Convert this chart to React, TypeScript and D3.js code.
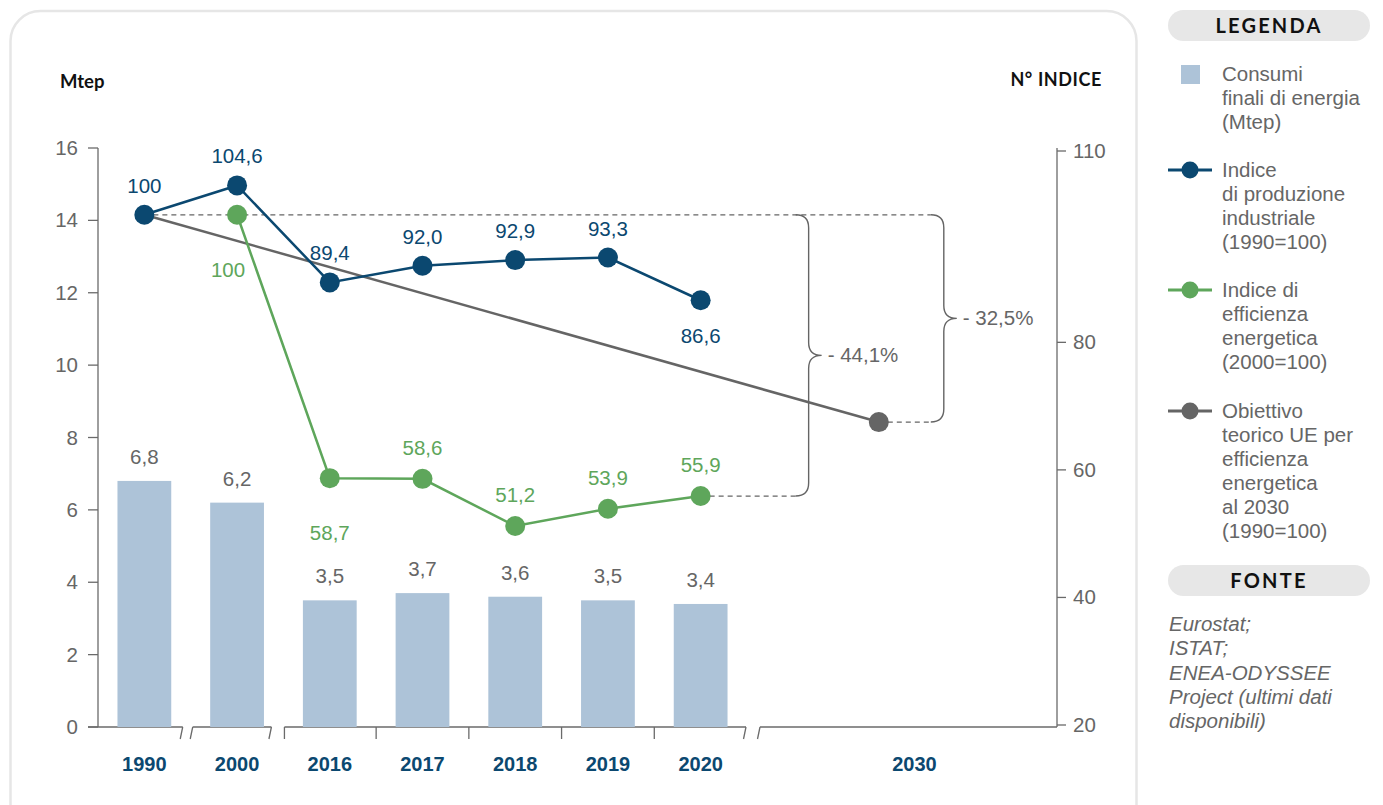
import React from 'react';
import * as d3 from 'd3';

// ---------- DATA ----------
const years = ['1990', '2000', '2016', '2017', '2018', '2019', '2020'];
const consumi = [6.8, 6.2, 3.5, 3.7, 3.6, 3.5, 3.4]; // Mtep (left axis)
const produzione = [100, 104.6, 89.4, 92.0, 92.9, 93.3, 86.6]; // 1990=100
const efficienzaYears = ['2000', '2016', '2017', '2018', '2019', '2020'];
const efficienza = [100, 58.7, 58.6, 51.2, 53.9, 55.9]; // 2000=100
const targetYear = '2030';
const obiettivoStart = 100; // 1990
const obiettivo2030 = 67.5; // 100 - 32,5%
const leftTicks = [0, 2, 4, 6, 8, 10, 12, 14, 16];
const rightTicks = [20, 40, 60, 80, 110];
const annotEff = '- 44,1%';
const annotTarget = '- 32,5%';

const legendItems = [
  { kind: 'bar', lines: ['Consumi', 'finali di energia', '(Mtep)'] },
  { kind: 'blue', lines: ['Indice', 'di produzione', 'industriale', '(1990=100)'] },
  { kind: 'green', lines: ['Indice di', 'efficienza', 'energetica', '(2000=100)'] },
  { kind: 'gray', lines: ['Obiettivo', 'teorico UE per', 'efficienza', 'energetica', 'al 2030', '(1990=100)'] },
];
const fonteLines = ['Eurostat;', 'ISTAT;', 'ENEA-ODYSSEE', 'Project (ultimi dati', 'disponibili)'];

// ---------- STYLE ----------
const C = {
  bar: '#adc3d8',
  blue: '#0b4870',
  green: '#5ea65b',
  gray: '#656565',
  axis: '#6a6a6a',
  text: '#666666',
  pill: '#e7e7e7',
  card: '#e6e6e6',
};
const SANS = "'Liberation Sans', Arial, Helvetica, sans-serif";
const HEAD = "Lato, 'Noto Sans', sans-serif";
const FS = 20.5;

const fmt = (v: number) => (v === 100 ? '100' : v.toFixed(1).replace('.', ','));

export default function App() {
  const W = 1383, H = 805;
  const axL = 98, axR = 1057, yBase = 727;

  const yLeft = d3.scaleLinear().domain([0, 16]).range([727, 148]);
  const yRight = d3.scaleLinear().domain([20, 110]).range([725, 151]);

  const x = d3.scaleBand<string>().domain(years).range([axL, 747]).paddingInner(0.42).paddingOuter(0.21);
  const step = x.step();
  const bw = x.bandwidth();
  const cx = (d: string) => (x(d) as number) + bw / 2;
  const b = (i: number) => axL + i * step; // band boundaries

  const seg4Start = b(7) + 13;
  const xT = d3.scalePoint<string>().domain([targetYear]).range([seg4Start, axR]).align(0.4);
  const tX = xT(targetYear) as number;

  const blueLine = d3.line<number>().x((_, i) => cx(years[i])).y((v) => yRight(v));
  const greenLine = d3.line<number>().x((_, i) => cx(efficienzaYears[i])).y((v) => yRight(v));

  const bluePos = ['a', 'a', 'a', 'a', 'a', 'a', 'b'];
  const greenPos = ['b', 'b', 'a', 'a', 'a', 'a'];

  // braces
  const r = 13, tip = 13;
  const brace = (bx: number, y0: number, y1: number) => {
    const ym = (y0 + y1) / 2;
    return `M${bx - r},${y0} Q${bx},${y0} ${bx},${y0 + r} L${bx},${ym - tip} Q${bx},${ym} ${bx + tip},${ym} Q${bx},${ym} ${bx},${ym + tip} L${bx},${y1 - r} Q${bx},${y1} ${bx - r},${y1}`;
  };
  const y100 = yRight(100);
  const yEff = yRight(efficienza[efficienza.length - 1]);
  const yTgt = yRight(obiettivo2030);
  const b1x = cx('2020') + 108;
  const b2x = tX + 65;

  const slash = (sx: number, key: string) => (
    <line key={key} x1={sx} y1={yBase} x2={sx - 2.5} y2={yBase + 12} stroke={C.axis} strokeWidth={1.3} />
  );

  const legendX = 1168;
  const legendY = [81, 177, 297, 418];
  const markerY = [74, 170, 290, 411];

  return (
    <svg width={W} height={H} style={{ position: 'absolute', left: 0, top: 0, display: 'block', background: '#fff' }}>
      {/* card */}
      <rect x={10.5} y={11} width={1126} height={830} rx={30} fill="none" stroke={C.card} strokeWidth={2.5} />

      {/* axis titles */}
      <text x={60} y={88} fontFamily={HEAD} fontWeight={700} fontSize={18.5} fill="#111">Mtep</text>
      <text x={1102} y={86} textAnchor="end" fontFamily={HEAD} fontWeight={700} fontSize={18} fill="#111" letterSpacing={0.6}>N° INDICE</text>

      {/* left axis */}
      <line x1={axL} y1={yLeft(16)} x2={axL} y2={yBase} stroke={C.axis} strokeWidth={1.3} />
      {leftTicks.map((t) => (
        <g key={'lt' + t}>
          <line x1={axL - 10} x2={axL} y1={yLeft(t)} y2={yLeft(t)} stroke={C.axis} strokeWidth={1.3} />
          <text x={78} y={yLeft(t) + 7} textAnchor="end" fontFamily={SANS} fontSize={FS} fill={C.text}>{t}</text>
        </g>
      ))}

      {/* right axis */}
      <line x1={axR} y1={148} x2={axR} y2={yBase} stroke={C.axis} strokeWidth={1.3} />
      {rightTicks.map((t) => (
        <g key={'rt' + t}>
          <line x1={axR} x2={axR + 9} y1={yRight(t)} y2={yRight(t)} stroke={C.axis} strokeWidth={1.3} />
          <text x={1073} y={yRight(t) + 7} fontFamily={SANS} fontSize={FS} fill={C.text}>{t}</text>
        </g>
      ))}

      {/* x axis segments */}
      <line x1={axL - 10} x2={b(1) - 8} y1={yBase} y2={yBase} stroke={C.axis} strokeWidth={1.3} />
      {slash(b(1) - 8, 's1')}
      <line x1={b(1) + 2} x2={b(2) - 12} y1={yBase} y2={yBase} stroke={C.axis} strokeWidth={1.3} />
      {slash(b(1) + 2, 's2')}
      {slash(b(2) - 12, 's3')}
      <line x1={b(2) + 1} x2={b(7) - 1} y1={yBase} y2={yBase} stroke={C.axis} strokeWidth={1.3} />
      {[2, 3, 4, 5, 6].map((i) => (
        <line key={'vt' + i} x1={b(i) + (i === 2 ? 1 : 0)} x2={b(i) + (i === 2 ? 1 : 0)} y1={yBase} y2={yBase + 12} stroke={C.axis} strokeWidth={1.3} />
      ))}
      {slash(b(7) - 1, 's4')}
      <line x1={seg4Start} x2={axR} y1={yBase} y2={yBase} stroke={C.axis} strokeWidth={1.3} />
      {slash(seg4Start, 's5')}

      {/* x labels */}
      {years.map((d) => (
        <text key={'xl' + d} x={cx(d)} y={771} textAnchor="middle" fontFamily={SANS} fontWeight={700} fontSize={20} fill={C.blue}>{d}</text>
      ))}
      <text x={(seg4Start + axR) / 2 + 6} y={771} textAnchor="middle" fontFamily={SANS} fontWeight={700} fontSize={20} fill={C.blue}>{targetYear}</text>

      {/* dashed reference lines */}
      <g stroke={C.gray} strokeWidth={1.2} strokeDasharray="5 4" fill="none">
        <line x1={cx('1990')} x2={b2x - r} y1={y100} y2={y100} />
        <line x1={cx('2020')} x2={b1x - r} y1={yEff} y2={yEff} />
        <line x1={tX} x2={b2x - r} y1={yTgt} y2={yTgt} />
      </g>
      <path d={brace(b1x, y100, yEff)} fill="none" stroke={C.gray} strokeWidth={1.4} />
      <path d={brace(b2x, y100, yTgt)} fill="none" stroke={C.gray} strokeWidth={1.4} />
      <text x={b1x + tip + 6} y={(y100 + yEff) / 2 + 7} fontFamily={SANS} fontSize={FS} fill={C.text}>{annotEff}</text>
      <text x={b2x + tip + 6} y={(y100 + yTgt) / 2 + 7} fontFamily={SANS} fontSize={FS} fill={C.text}>{annotTarget}</text>

      {/* bars */}
      {consumi.map((v, i) => (
        <g key={'bar' + i}>
          <rect x={x(years[i])} y={yLeft(v)} width={bw} height={yLeft(0) - yLeft(v)} fill={C.bar} />
          <text x={cx(years[i])} y={yLeft(v) - 17} textAnchor="middle" fontFamily={SANS} fontSize={FS} fill={C.text}>{fmt(v)}</text>
        </g>
      ))}

      {/* objective line */}
      <line x1={cx('1990')} y1={yRight(obiettivoStart)} x2={tX} y2={yTgt} stroke={C.gray} strokeWidth={2.5} />
      <circle cx={tX} cy={yTgt} r={10} fill={C.gray} />

      {/* efficiency line */}
      <path d={greenLine(efficienza) as string} fill="none" stroke={C.green} strokeWidth={2.5} />
      {efficienza.map((v, i) => (
        <circle key={'gc' + i} cx={cx(efficienzaYears[i])} cy={yRight(v)} r={10} fill={C.green} />
      ))}
      {efficienza.map((v, i) => (
        <text key={'gl' + i} x={cx(efficienzaYears[i]) - (i === 0 ? 9 : 0)} y={yRight(v) + (greenPos[i] === 'a' ? -24 : 62)} textAnchor="middle" fontFamily={SANS} fontSize={FS} fill={C.green}>{fmt(v)}</text>
      ))}

      {/* production line */}
      <path d={blueLine(produzione) as string} fill="none" stroke={C.blue} strokeWidth={2.5} />
      {produzione.map((v, i) => (
        <circle key={'bc' + i} cx={cx(years[i])} cy={yRight(v)} r={10} fill={C.blue} />
      ))}
      {produzione.map((v, i) => (
        <text key={'bl' + i} x={cx(years[i])} y={yRight(v) + (bluePos[i] === 'a' ? -22 : 43)} textAnchor="middle" fontFamily={SANS} fontSize={FS} fill={C.blue}>{fmt(v)}</text>
      ))}

      {/* legend */}
      <rect x={legendX} y={10} width={202} height={31} rx={15.5} fill={C.pill} />
      <text x={legendX + 101} y={33} textAnchor="middle" fontFamily={HEAD} fontWeight={700} fontSize={20} letterSpacing={2.2} fill="#111">LEGENDA</text>
      {legendItems.map((it, k) => (
        <g key={'lg' + k}>
          {it.kind === 'bar' ? (
            <rect x={1181} y={markerY[k] - 9} width={19} height={19} fill={C.bar} />
          ) : (
            <g>
              <line x1={legendX} x2={legendX + 44} y1={markerY[k]} y2={markerY[k]} stroke={it.kind === 'blue' ? C.blue : it.kind === 'green' ? C.green : C.gray} strokeWidth={3} />
              <circle cx={legendX + 22} cy={markerY[k]} r={8.5} fill={it.kind === 'blue' ? C.blue : it.kind === 'green' ? C.green : C.gray} />
            </g>
          )}
          {it.lines.map((ln, j) => (
            <text key={j} x={1222} y={legendY[k] + j * 24} fontFamily={SANS} fontSize={20.5} fill={C.text}>{ln}</text>
          ))}
        </g>
      ))}
      <rect x={legendX} y={565} width={202} height={31} rx={15.5} fill={C.pill} />
      <text x={legendX + 101} y={588} textAnchor="middle" fontFamily={HEAD} fontWeight={700} fontSize={20} letterSpacing={2.2} fill="#111">FONTE</text>
      {fonteLines.map((ln, j) => (
        <text key={'f' + j} x={1169} y={631 + j * 24.3} fontFamily={SANS} fontStyle="italic" fontSize={20.5} fill={C.text}>{ln}</text>
      ))}
    </svg>
  );
}
